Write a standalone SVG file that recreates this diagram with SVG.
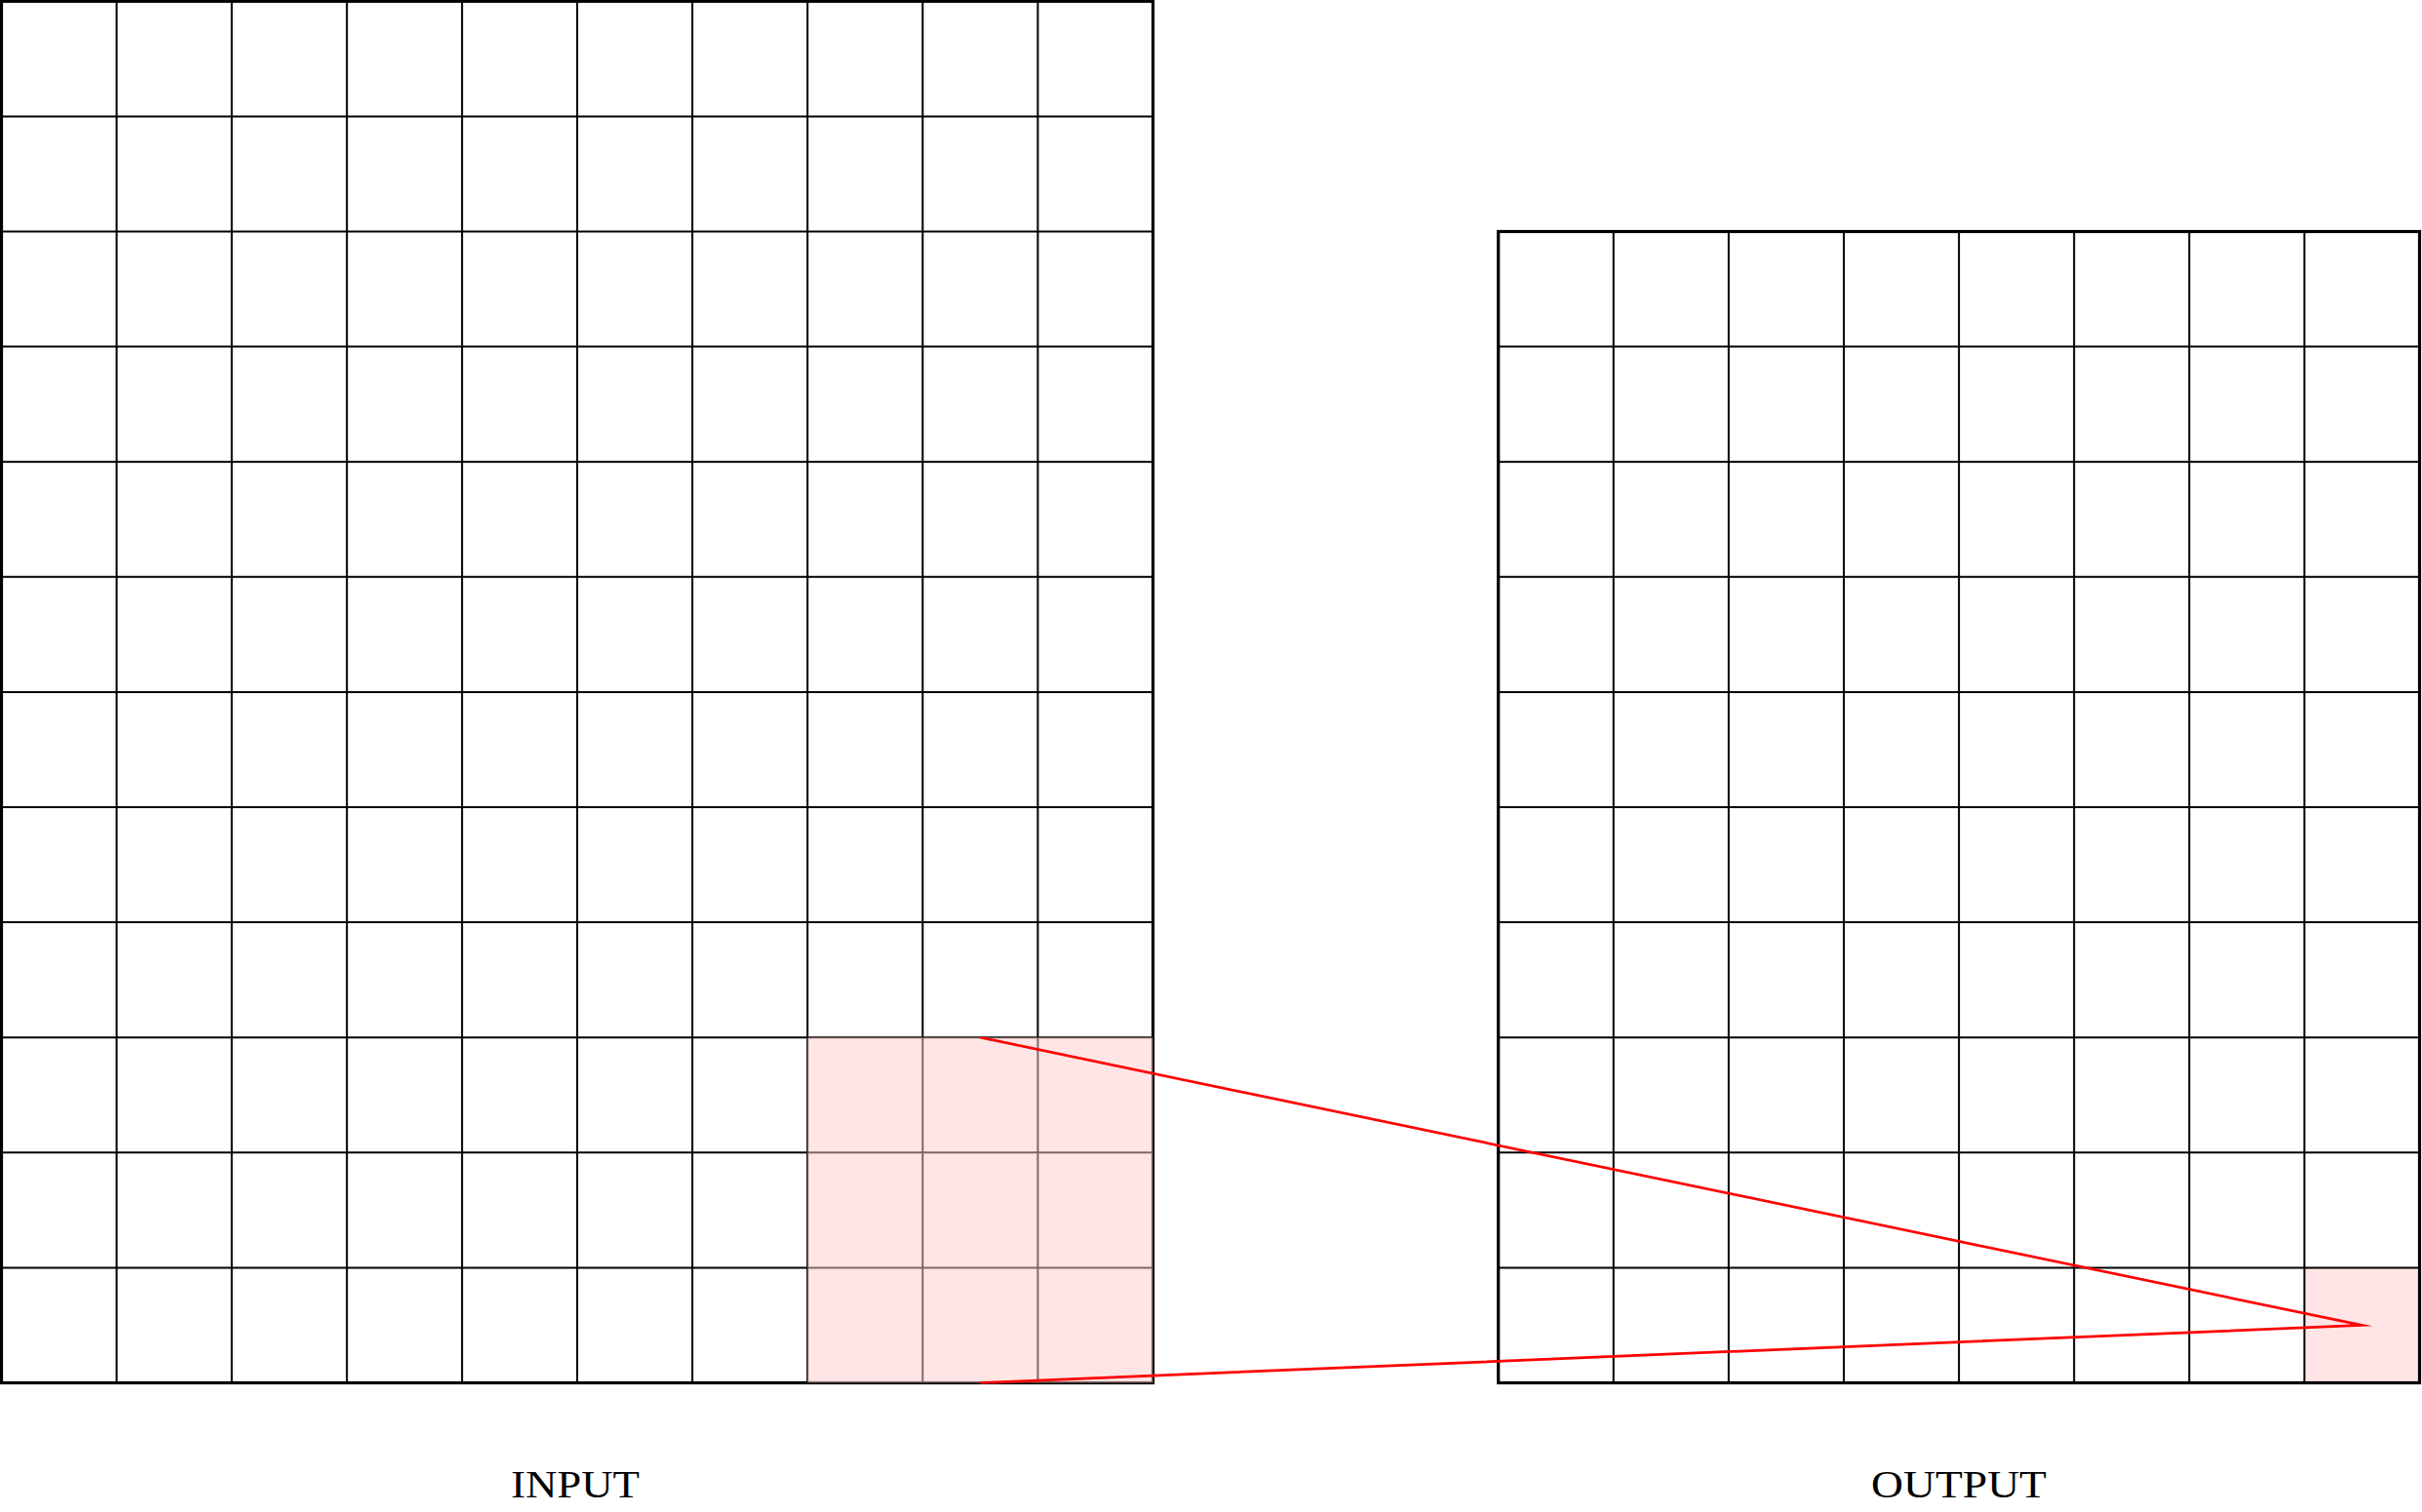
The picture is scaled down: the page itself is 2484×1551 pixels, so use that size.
<svg xmlns="http://www.w3.org/2000/svg" width="2484" height="1551" viewBox="0 0 2484 1551">
<style>
.inner{fill:none;stroke:#000;stroke-width:2}
.outer{fill:none;stroke:#000;stroke-width:3.2}
.hl{fill:#FFCCCC;fill-opacity:0.5;stroke:none}
.conn{fill:none;stroke:#FF0000;stroke-width:2.7;stroke-linejoin:miter;stroke-miterlimit:10}
.lbl{font-family:"Liberation Serif","DejaVu Serif",serif;font-size:41px;fill:#000;text-anchor:middle}
</style>
<rect width="2484" height="1551" fill="#fff"/>
<g id="input">
<path class="inner" d="M119.6 1.3V1418.5M237.7 1.3V1418.5M355.8 1.3V1418.5M473.9 1.3V1418.5M592 1.3V1418.5M710.1 1.3V1418.5M828.2 1.3V1418.5M946.3 1.3V1418.5M1064.4 1.3V1418.5M1.5 119.4H1182.5M1.5 237.5H1182.5M1.5 355.6H1182.5M1.5 473.7H1182.5M1.5 591.8H1182.5M1.5 709.9H1182.5M1.5 828H1182.5M1.5 946.1H1182.5M1.5 1064.2H1182.5M1.5 1182.3H1182.5M1.5 1300.4H1182.5"/>
<rect class="outer" x="1.5" y="1.3" width="1181" height="1417.2"/>
<rect class="hl" x="828.2" y="1064.2" width="354.3" height="354.3"/>
</g>
<g id="output">
<rect class="hl" x="2363.4" y="1300.4" width="118.1" height="118.1"/>
<path class="inner" d="M1654.8 237.5V1418.5M1772.9 237.5V1418.5M1891 237.5V1418.5M2009.1 237.5V1418.5M2127.2 237.5V1418.5M2245.3 237.5V1418.5M2363.4 237.5V1418.5M1536.7 355.6H2481.5M1536.7 473.7H2481.5M1536.7 591.8H2481.5M1536.7 709.9H2481.5M1536.7 828H2481.5M1536.7 946.1H2481.5M1536.7 1064.2H2481.5M1536.7 1182.3H2481.5M1536.7 1300.4H2481.5"/>
<rect class="outer" x="1536.7" y="237.5" width="944.8" height="1181"/>
</g>
<g id="connectors">
<polyline class="conn" points="1005.35,1064.2 2422.45,1359.45 1005.35,1418.5"/>
</g>
<g id="labels">
<text class="lbl" x="590" y="1536" textLength="132" lengthAdjust="spacingAndGlyphs">INPUT</text>
<text class="lbl" x="2009" y="1536" textLength="180" lengthAdjust="spacingAndGlyphs">OUTPUT</text>
</g>
</svg>
